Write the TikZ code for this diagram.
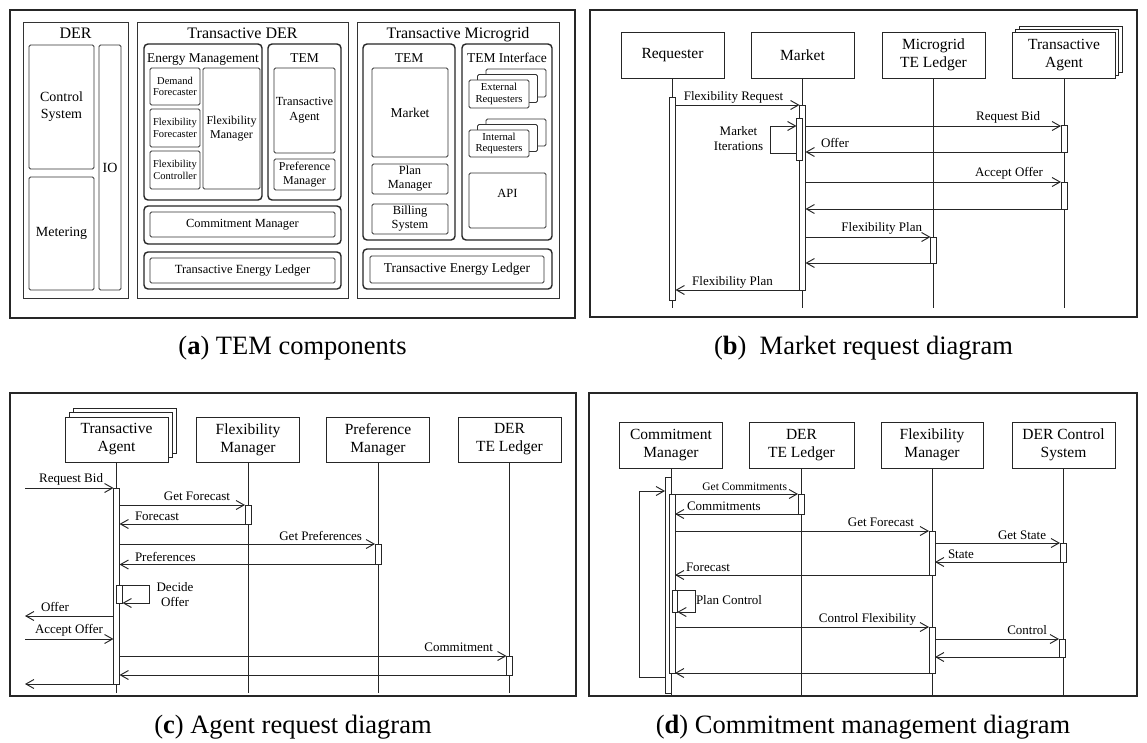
\documentclass[tikz,border=0pt]{standalone}
\usepackage{fontspec}
\setmainfont{Liberation Serif}
\usetikzlibrary{arrows.meta}
\tikzset{
  every node/.style={inner sep=0pt, outer sep=0pt},
  fnt/.style 2 args={font=\fontsize{#1}{#2}\selectfont},
  wh/.style 2 args={minimum width=#1pt, minimum height=#2pt},
  panel/.style={draw=black!85, line width=1.1pt},
  grp/.style={draw=black!80, line width=0.9pt},
  rgrp/.style={draw=black!85, line width=1.4pt, rounded corners=4pt},
  cbox/.style={draw=black!80, line width=0.8pt, rounded corners=1.5pt, fill=white, align=center},
  part/.style={draw=black!85, line width=1pt, fill=white, align=center, fnt={15.5}{18}, minimum width=103pt, minimum height=46pt},
  life/.style={draw=black!85, line width=0.9pt},
  act/.style={draw=black!85, line width=0.9pt, fill=white, minimum width=6pt, anchor=north},
  msg/.style={draw=black!85, line width=0.95pt, -{Straight Barb[length=8pt,width=9pt]}},
  lbl/.style={fnt={13}{15}},
  captxt/.style={fnt={26.5}{30}, anchor=base}
}
\begin{document}
\begin{tikzpicture}[x=1pt,y=-1pt]
\fill[white] (0,0) rectangle (1147,742);
\useasboundingbox (0,0) rectangle (1147,742);

%% ================= (a) TEM components =================
\node[panel, wh={565}{308}] (pa) at (292.5,164) {};
% DER
\node[grp, wh={105}{276}] (der) at (75.5,160) {};
\node[fnt={16}{18}, anchor=base] (derT) at (75.5,38) {DER};
\node[cbox, wh={65}{124}, fnt={14}{17}] (ctrl) at (61.5,107) {Control\\System};
\node[cbox, wh={65}{113}, fnt={14}{17}] (meter) at (61.5,233.5) {Metering};
\node[cbox, wh={22}{245}, fnt={14}{17}] (io) at (110,167.5) {IO};
% Transactive DER
\node[grp, wh={211}{276}] (tder) at (242.5,160) {};
\node[fnt={16}{18}, anchor=base] (tderT) at (242.5,38) {Transactive DER};
\node[rgrp, wh={118}{156}] (em) at (203,122) {};
\node[fnt={13.4}{15}, anchor=base] (emT) at (203,62) {Energy Management};
\node[cbox, wh={50}{37}, fnt={10.5}{11.5}] (dfc) at (175,86.5) {Demand\\Forecaster};
\node[cbox, wh={50}{38}, fnt={10.5}{11.5}] (ffc) at (175,128) {Flexibility\\Forecaster};
\node[cbox, wh={50}{38}, fnt={10.5}{11.5}] (fct) at (175,170) {Flexibility\\Controller};
\node[cbox, wh={57}{121}, fnt={12}{14}] (fma) at (231.5,128.5) {Flexibility\\Manager};
\node[rgrp, wh={73}{156}] (temd) at (304.5,122) {};
\node[fnt={13.5}{15}, anchor=base] (temdT) at (304.5,62) {TEM};
\node[cbox, wh={61}{85}, fnt={12.4}{15}] (taa) at (304.5,110.5) {Transactive\\Agent};
\node[cbox, wh={61}{31}, fnt={12}{14}] (pma) at (304.5,174.5) {Preference\\Manager};
\node[rgrp, wh={197}{38}] (cmo) at (242.5,225) {};
\node[cbox, wh={185}{25}, fnt={12.4}{14}] (cmi) at (242.5,224.5) {Commitment Manager};
\node[rgrp, wh={197}{37}] (tlo) at (242.5,270.5) {};
\node[cbox, wh={185}{25}, fnt={12.5}{14}] (tli) at (242.5,270.5) {Transactive Energy Ledger};
% Transactive Microgrid
\node[grp, wh={202}{276}] (tmg) at (458,160) {};
\node[fnt={16}{18}, anchor=base] (tmgT) at (458,38) {Transactive Microgrid};
\node[rgrp, wh={92}{196}] (temm) at (409,142) {};
\node[fnt={13.5}{15}, anchor=base] (temmT) at (409,62) {TEM};
\node[cbox, wh={76}{89}, fnt={13.5}{15}] (mkta) at (410,112.5) {Market};
\node[cbox, wh={76}{30}, fnt={12.4}{14}] (plm) at (410,179) {Plan\\Manager};
\node[cbox, wh={76}{30}, fnt={12.4}{14}] (bil) at (410,219) {Billing\\System};
\node[rgrp, wh={90}{196}] (tif) at (507,142) {};
\node[fnt={13.5}{15}, anchor=base] (tifT) at (507,62) {TEM Interface};
\node[cbox, wh={60}{28}] (ext2) at (516,83) {};
\node[cbox, wh={60}{28}] (ext1) at (507.5,88.5) {};
\node[cbox, wh={60}{28}, fnt={10.7}{11.5}] (ext) at (499,94) {External\\Requesters};
\node[cbox, wh={60}{27}] (int2) at (516,132.5) {};
\node[cbox, wh={60}{27}] (int1) at (507.5,138) {};
\node[cbox, wh={60}{27}, fnt={10.7}{11.5}] (int) at (499,143.5) {Internal\\Requesters};
\node[cbox, wh={77}{55}] (api) at (507.5,200.5) {};
\node[fnt={12.5}{14}] (apiT) at (507.5,193) {API};
\node[rgrp, wh={189}{40}] (tlmo) at (457.5,269) {};
\node[cbox, wh={174}{27}, fnt={13.5}{15}] (tlmi) at (457,269.5) {Transactive Energy Ledger};

%% ================= (b) Market request diagram =================
\node[panel, wh={547}{307}] (pb) at (863.5,163.5) {};
\node[part] (req) at (672.5,55) {Requester};
\node[part] (mkt) at (802.5,55) {Market};
\node[part] (mled) at (933.5,55) {Microgrid\\TE Ledger};
\node[part] (tab2) at (1070.6,49.4) {};
\node[part] (tab1) at (1067.3,52.2) {};
\node[part] (tab) at (1064,55) {Transactive\\Agent};
\draw[life] (req.south) -- (req.south |- 0,308);
\draw[life] (mkt.south) -- (mkt.south |- 0,308);
\draw[life] (mled.south) -- (mled.south |- 0,308);
\draw[life] (tab.south) -- (tab.south |- 0,308);
\node[act, minimum height=203pt] (aReq) at (672.5,97) {};
\node[act, minimum height=185pt] (aMkt) at (802.5,105) {};
\node[act, minimum height=42pt] (aMkt2) at (799.5,118) {};
\node[act, minimum height=27pt] (aTA1) at (1064,125) {};
\node[act, minimum height=27pt] (aTA2) at (1064,182) {};
\node[act, minimum height=26pt] (aLed) at (933.5,237) {};
\draw[msg] (aReq.east |- 0,105) -- (aMkt.west |- 0,105);
\node[lbl, anchor=base] (lFR) at (733.5,100) {Flexibility Request};
\draw[msg] (aMkt2.west |- 0,153) -- ++(-26,0) -- ++(0,-27) -- (aMkt2.west |- 0,126);
\node[lbl, align=center] (lMI) at (738.5,139) {Market\\Iterations};
\draw[msg] (aMkt.east |- 0,126) -- (aTA1.west |- 0,126);
\node[lbl, anchor=base east] (lRB) at (1040,120) {Request Bid};
\draw[msg] (aTA1.west |- 0,152) -- (aMkt.east |- 0,152);
\node[lbl, anchor=base west] (lOf) at (821,147) {Offer};
\draw[msg] (aMkt.east |- 0,182) -- (aTA2.west |- 0,182);
\node[lbl, anchor=base east] (lAO) at (1043,176) {Accept Offer};
\draw[msg] (aTA2.west |- 0,209) -- (aMkt.east |- 0,209);
\draw[msg] (aMkt.east |- 0,237) -- (aLed.west |- 0,237);
\node[lbl, anchor=base east] (lFP1) at (922,231) {Flexibility Plan};
\draw[msg] (aLed.west |- 0,263) -- (aMkt.east |- 0,263);
\draw[msg] (aMkt.west |- 0,290) -- (aReq.east |- 0,290);
\node[lbl, anchor=base] (lFP2) at (732.5,285) {Flexibility Plan};

%% ================= (c) Agent request diagram =================
\node[panel, wh={566}{303}] (pc) at (293,544.5) {};
\node[part, minimum height=45pt] (tac2) at (124.5,430.5) {};
\node[part, minimum height=45pt] (tac1) at (120.5,435) {};
\node[part, minimum height=45pt] (tac) at (116.5,439.5) {Transactive\\Agent};
\node[part, minimum height=45pt] (fmc) at (248,439.5) {Flexibility\\Manager};
\node[part, minimum height=45pt] (pmc) at (378,439.5) {Preference\\Manager};
\node[part, minimum height=45pt] (ledc) at (509.5,439.5) {DER\\TE Ledger};
\draw[life] (tac.south) -- (tac.south |- 0,693);
\draw[life] (fmc.south) -- (fmc.south |- 0,693);
\draw[life] (pmc.south) -- (pmc.south |- 0,693);
\draw[life] (ledc.south) -- (ledc.south |- 0,693);
\node[act, minimum height=196pt] (aTAc) at (116.5,488) {};
\node[act, minimum height=19pt] (aFMc) at (248,505) {};
\node[act, minimum height=20.5pt] (aPMc) at (378,544) {};
\node[act, minimum height=18pt] (aDec) at (119.5,585) {};
\node[act, minimum height=19pt] (aLedc) at (509.5,656) {};
\coordinate (cRB) at (25,488);
\coordinate (cOf) at (25,616);
\coordinate (cAO) at (25,639);
\coordinate (cEnd) at (25,684);
\draw[msg] (cRB) -- (aTAc.west |- cRB);
\node[lbl, anchor=base east] (lRBc) at (103,482) {Request Bid};
\draw[msg] (aTAc.east |- 0,505) -- (aFMc.west |- 0,505);
\node[lbl, anchor=base east] (lGF) at (230,500) {Get Forecast};
\draw[msg] (aFMc.west |- 0,524) -- (aTAc.east |- 0,524);
\node[lbl, anchor=base west] (lFc) at (135,520) {Forecast};
\draw[msg] (aTAc.east |- 0,544) -- (aPMc.west |- 0,544);
\node[lbl, anchor=base east] (lGP) at (362,540) {Get Preferences};
\draw[msg] (aPMc.west |- 0,564.5) -- (aTAc.east |- 0,564.5);
\node[lbl, anchor=base west] (lPr) at (135,561) {Preferences};
\draw[msg] (aDec.north east) -- ++(27,0) -- ++(0,18) -- (aDec.south east);
\node[lbl, align=center] (lDO) at (175,595) {Decide\\Offer};
\draw[msg] (aTAc.west |- cOf) -- (cOf);
\node[lbl, anchor=base west] (lOfc) at (41,611) {Offer};
\draw[msg] (cAO) -- (aTAc.west |- cAO);
\node[lbl, anchor=base east] (lAOc) at (103,633) {Accept Offer};
\draw[msg] (aTAc.east |- 0,656) -- (aLedc.west |- 0,656);
\node[lbl, anchor=base east] (lCm) at (493,651) {Commitment};
\draw[msg] (aLedc.west |- 0,675) -- (aTAc.east |- 0,675);
\draw[msg] (aTAc.west |- cEnd) -- (cEnd);

%% ================= (d) Commitment management diagram =================
\node[panel, wh={548}{303}] (pd) at (863,544.5) {};
\node[part] (cmd) at (671,445) {Commitment\\Manager};
\node[part, minimum width=105pt] (dld) at (801.5,445) {DER\\TE Ledger};
\node[part, minimum width=102pt] (fmd) at (932,445) {Flexibility\\Manager};
\node[part] (dcs) at (1063.5,445) {DER Control\\System};
\draw[life] (cmd.south) -- (cmd.south |- 0,695);
\draw[life] (dld.south) -- (dld.south |- 0,695);
\draw[life] (fmd.south) -- (fmd.south |- 0,695);
\draw[life] (dcs.south) -- (dcs.south |- 0,695);
\node[act, minimum height=216pt] (aCMo) at (668,477) {};
\node[act, minimum height=179pt] (aCMi) at (672,494) {};
\node[act, minimum height=20pt] (aDL) at (801,494) {};
\node[act, minimum height=44pt] (aFM1) at (932,531) {};
\node[act, minimum height=46pt] (aFM2) at (932,627) {};
\node[act, minimum height=19pt] (aDC1) at (1063,543) {};
\node[act, minimum height=18pt] (aDC2) at (1062,639) {};
\node[act, minimum height=22pt, minimum width=5pt] (aPC) at (674.8,590) {};
\draw[msg] (aCMo.west |- 0,677) -- ++(-26,0) -- ++(0,-186) -- (aCMo.west |- 0,491);
\draw[msg] (aCMi.east |- 0,494) -- (aDL.west |- 0,494);
\node[fnt={11.5}{13}, anchor=base east] (lGC) at (787,490.5) {Get Commitments};
\draw[msg] (aDL.west |- 0,514) -- (aCMi.east |- 0,514);
\node[lbl, anchor=base west] (lCs) at (687,510.5) {Commitments};
\draw[msg] (aCMi.east |- 0,531) -- (aFM1.west |- 0,531);
\node[lbl, anchor=base east] (lGFd) at (914,526.5) {Get Forecast};
\draw[msg] (aFM1.east |- 0,543) -- (aDC1.west |- 0,543);
\node[lbl, anchor=base east] (lGS) at (1046,539.5) {Get State};
\draw[msg] (aDC1.west |- 0,562) -- (aFM1.east |- 0,562);
\node[lbl, anchor=base west] (lSt) at (948,558) {State};
\draw[msg] (aFM1.west |- 0,575) -- (aCMi.east |- 0,575);
\node[lbl, anchor=base west] (lFd) at (686,571) {Forecast};
\draw[msg] (aPC.north east) -- ++(18,0) -- ++(0,22) -- (aPC.south east);
\node[lbl, anchor=base west] (lPC) at (696,604.5) {Plan Control};
\draw[msg] (aCMi.east |- 0,627) -- (aFM2.west |- 0,627);
\node[lbl, anchor=base east] (lCF) at (916,622.5) {Control Flexibility};
\draw[msg] (aFM2.east |- 0,639) -- (aDC2.west |- 0,639);
\node[lbl, anchor=base east] (lCt) at (1047,634.5) {Control};
\draw[msg] (aDC2.west |- 0,657) -- (aFM2.east |- 0,657);
\draw[msg] (aFM2.west |- 0,673) -- (aCMi.east |- 0,673);

%% ================= captions =================
\node[captxt] (capA) at (292.5,354) {(\textbf{a}) TEM components};
\node[captxt] (capB) at (863.5,354) {(\textbf{b})\ \ Market request diagram};
\node[captxt] (capC) at (293,733) {(\textbf{c}) Agent request diagram};
\node[captxt] (capD) at (863,733) {(\textbf{d}) Commitment management diagram};
\end{tikzpicture}
\end{document}
